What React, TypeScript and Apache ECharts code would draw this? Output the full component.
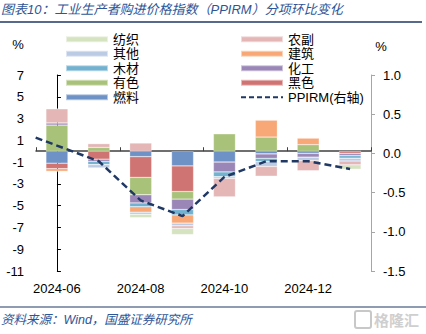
import React, { useEffect, useRef } from 'react';
import * as echarts from 'echarts';

// Categories (bars)
const months = ['2024-06', '2024-07', '2024-08', '2024-09', '2024-10', '2024-11', '2024-12', '2025-01'];

// Bar series values (%), month-on-month by sub-category
const fuel = [-1.1, 0, -0.5, -1.35, -1.0, -0.25, -0.2, 0];        // 燃料
const ferrous = [-0.5, -0.73, -1.9, -2.35, 0, 0, 0, -0.2];       // 黑色
const nonferrous = [2.4, 0.35, -1.6, -0.7, 1.6, 1.3, 0.6, 0];    // 有色
const chemical = [0.2, -0.2, -0.75, -0.95, -0.9, -0.4, -0.35, -0.2]; // 化工
const timber = [0, -0.3, -0.35, -0.5, -0.45, -0.3, 0, -0.25];     // 木材
const building = [-0.25, 0, -0.5, -0.75, 0, 1.55, 0.6, 0];       // 建筑
const other = [0, -0.3, -0.2, -0.25, -0.15, -0.45, -0.3, -0.25];  // 其他
const agri = [1.3, 0.35, 0.75, -0.25, -1.7, -0.9, -0.95, -0.35];  // 农副
const textile = [0, 0, -0.3, -0.55, 0, 0, 0, -0.4];              // 纺织

// PPIRM line (right axis), starts one month before the first bar
const ppirmMonths = ['2024-05', '2024-06', '2024-07', '2024-08', '2024-09', '2024-10', '2024-11', '2024-12', '2025-01'];
const ppirmValues = [0.3, 0.1, -0.1, -0.6, -0.8, -0.3, -0.1, -0.1, -0.2];

// Axis ticks
const leftTicks = { min: -11, max: 7, interval: 2 };
const rightTicks = { min: -1.5, max: 1.0, interval: 0.5 };

const FONT = 'Arial, "Liberation Sans", "Noto Sans CJK SC", sans-serif';

export default function App() {
  const ref = useRef<HTMLDivElement>(null);
  useEffect(() => {
    const chart = echarts.init(ref.current!, null, { renderer: 'svg' });

    const barDefs = [
      { name: '燃料', data: fuel, color: '#6f92c6' },
      { name: '黑色', data: ferrous, color: '#cf7472' },
      { name: '有色', data: nonferrous, color: '#a9c27a' },
      { name: '化工', data: chemical, color: '#9a86b7' },
      { name: '木材', data: timber, color: '#72b2d0' },
      { name: '建筑', data: building, color: '#f8a876' },
      { name: '其他', data: other, color: '#bccbe4' },
      { name: '农副', data: agri, color: '#e4b6b6' },
      { name: '纺织', data: textile, color: '#d5e3c0' },
    ];

    const barSeries = barDefs.map((d) => ({
      type: 'bar',
      name: d.name,
      stack: 'total',
      xAxisIndex: 0,
      yAxisIndex: 0,
      barWidth: 22,
      data: d.data,
      itemStyle: { color: d.color, borderColor: 'rgba(255,255,255,0.5)', borderWidth: 0.5 },
    }));

    const lineSeries = {
      type: 'line',
      name: 'PPIRM(右轴)',
      xAxisIndex: 2,
      yAxisIndex: 1,
      symbol: 'none',
      z: 10,
      clip: true,
      data: ppirmValues.map((v, i) => [i - 1, v]),
      lineStyle: { color: '#1f3864', width: 2.5, type: [7, 4] },
      itemStyle: { color: '#1f3864' },
    };

    const legendCommon = {
      orient: 'vertical',
      itemWidth: 42,
      itemHeight: 6,
      itemGap: 0,
      textStyle: { fontFamily: FONT, fontSize: 13, color: '#000', lineHeight: 14.5 },
      selectedMode: false,
    };

    const option = {
      animation: false,
      backgroundColor: '#fff',
      textStyle: { fontFamily: FONT },
      grid: { left: 36, right: 55, top: 75, bottom: 63, containLabel: false },
      legend: [
        {
          ...legendCommon,
          left: 60,
          top: 27,
          data: ['纺织', '其他', '木材', '有色', '燃料'].map((n) => ({ name: n, icon: 'rect' })),
        },
        {
          ...legendCommon,
          left: 235,
          top: 27,
          data: [
            ...['农副', '建筑', '化工', '黑色'].map((n) => ({ name: n, icon: 'rect' })),
            { name: 'PPIRM(右轴)', itemStyle: { opacity: 0 }, lineStyle: { width: 2, type: [5, 3] } },
          ],
        },
      ],
      xAxis: [
        {
          type: 'category',
          data: months,
          position: 'bottom',
          axisLine: { onZero: true, onZeroAxisIndex: 0, lineStyle: { color: '#404040', width: 1.5 } },
          axisTick: { show: true, inside: true, length: 4, interval: 1, lineStyle: { color: '#404040' } },
          axisLabel: { show: false },
          splitLine: { show: false },
        },
        {
          type: 'category',
          data: months,
          position: 'bottom',
          axisLine: { show: false, onZero: false },
          axisTick: { show: false },
          axisLabel: { interval: 1, fontSize: 13, color: '#000', margin: 11, fontFamily: FONT },
          splitLine: { show: false },
        },
        {
          type: 'value',
          show: false,
          min: -0.5,
          max: 7.5,
        },
      ],
      yAxis: [
        {
          type: 'value',
          position: 'left',
          min: leftTicks.min,
          max: leftTicks.max,
          interval: leftTicks.interval,
          axisLine: { show: true, lineStyle: { color: '#000', width: 1 } },
          axisTick: { show: true, inside: true, length: 4, lineStyle: { color: '#000' } },
          axisLabel: { fontSize: 13, color: '#000', margin: 12, fontFamily: FONT },
          splitLine: { show: false },
        },
        {
          type: 'value',
          position: 'right',
          min: rightTicks.min,
          max: rightTicks.max,
          interval: rightTicks.interval,
          axisLine: { show: true, lineStyle: { color: '#a6a6a6', width: 1 } },
          axisTick: { show: true, inside: false, length: 4, lineStyle: { color: '#a6a6a6' } },
          axisLabel: {
            fontSize: 13,
            color: '#000',
            margin: 12,
            fontFamily: FONT,
            formatter: (v: number) => v.toFixed(1),
          },
          splitLine: { show: false },
        },
      ],
      graphic: [
        {
          type: 'text',
          left: 1,
          top: 3,
          style: {
            text: '图表10：工业生产者购进价格指数（PPIRM）分项环比变化',
            fontSize: 13,
            fontStyle: 'italic',
            fontFamily: FONT,
            fill: '#2e5597',
          },
        },
        {
          type: 'line',
          shape: { x1: 0, y1: 22, x2: 422, y2: 22 },
          style: { stroke: '#1f3864', lineWidth: 1.5 },
        },
        {
          type: 'text',
          x: 18,
          y: 44,
          style: { text: '%', fontSize: 13, fontFamily: FONT, fill: '#000', align: 'center', verticalAlign: 'middle' },
        },
        {
          type: 'text',
          x: 381,
          y: 46,
          style: { text: '%', fontSize: 13, fontFamily: FONT, fill: '#000', align: 'center', verticalAlign: 'middle' },
        },
        {
          type: 'line',
          shape: { x1: 0, y1: 307, x2: 426, y2: 307 },
          style: { stroke: '#1f3864', lineWidth: 1.2 },
        },
        {
          type: 'text',
          x: 1,
          y: 320,
          style: {
            text: '资料来源：Wind，国盛证券研究所',
            fontSize: 12.5,
            fontStyle: 'italic',
            fontFamily: FONT,
            fill: '#2e5597',
            verticalAlign: 'middle',
          },
        },
        {
          type: 'rect',
          shape: { x: 355, y: 311, width: 16, height: 17, r: 2 },
          style: { fill: 'none', stroke: '#c8c8c8', lineWidth: 2 },
        },
        {
          type: 'text',
          x: 374,
          y: 320,
          style: {
            text: '格隆汇',
            fontSize: 15,
            fontWeight: 'bold',
            fontFamily: FONT,
            fill: '#cfcfcf',
            verticalAlign: 'middle',
          },
        },
      ],
      series: [...barSeries, lineSeries],
    };

    chart.setOption(option as any);
    return () => chart.dispose();
  }, []);

  return (
    <div
      ref={ref}
      style={{ position: 'fixed', left: 0, top: 0, width: 426, height: 334, background: '#fff' }}
    />
  );
}
